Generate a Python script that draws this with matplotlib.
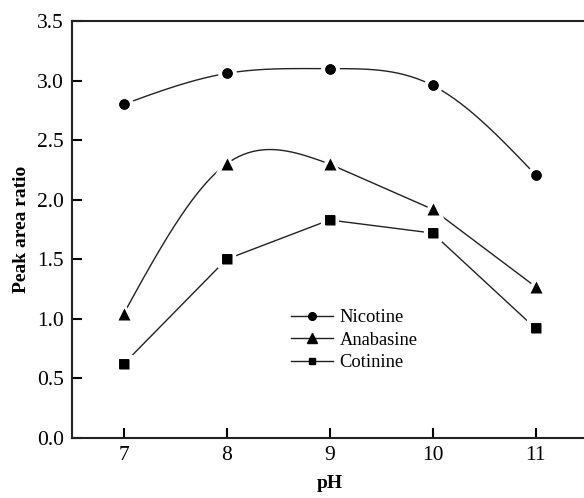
import numpy as np
import matplotlib.pyplot as plt
from matplotlib.lines import Line2D

ph = [7, 8, 9, 10, 11]
nicotine = [2.80, 3.06, 3.10, 2.96, 2.21]
anabasine = [1.04, 2.30, 2.30, 1.92, 1.27]
cotinine = [0.62, 1.50, 1.83, 1.72, 0.92]

plt.rcParams['font.family'] = ['Liberation Serif', 'DejaVu Serif']


def natural_spline(x, y, n=200):
    # natural cubic spline through the measured points, for a smooth connecting line
    x = np.asarray(x, float)
    y = np.asarray(y, float)
    k = len(x)
    h = np.diff(x)
    A = np.zeros((k, k))
    b = np.zeros(k)
    A[0, 0] = A[-1, -1] = 1
    for i in range(1, k - 1):
        A[i, i - 1] = h[i - 1]
        A[i, i] = 2 * (h[i - 1] + h[i])
        A[i, i + 1] = h[i]
        b[i] = 6 * ((y[i + 1] - y[i]) / h[i] - (y[i] - y[i - 1]) / h[i - 1])
    m = np.linalg.solve(A, b)
    xs = np.linspace(x[0], x[-1], n)
    idx = np.clip(np.searchsorted(x, xs) - 1, 0, k - 2)
    x0, x1 = x[idx], x[idx + 1]
    hh = x1 - x0
    t0, t1 = x1 - xs, xs - x0
    ys = (m[idx] * t0 ** 3 + m[idx + 1] * t1 ** 3) / (6 * hh) \
        + (y[idx] / hh - m[idx] * hh / 6) * t0 + (y[idx + 1] / hh - m[idx + 1] * hh / 6) * t1
    return xs, ys


fig = plt.figure(figsize=(5.84, 4.98), dpi=100)
ax = fig.add_axes([72 / 584, 60 / 498, 515 / 584, 417 / 498])

lc = '#222222'
lw = 1.0

# Nicotine: smooth curve over all points
xs, ys = natural_spline(ph, nicotine)
ax.plot(xs, ys, color=lc, lw=lw, zorder=2)
# Anabasine: smooth over pH 7-9, straight after
xs, ys = natural_spline(ph[:3], anabasine[:3])
ax.plot(xs, ys, color=lc, lw=lw, zorder=2)
ax.plot(ph[2:], anabasine[2:], color=lc, lw=lw, zorder=2)
# Cotinine: straight segments
ax.plot(ph, cotinine, color=lc, lw=lw, zorder=2)

series = [(nicotine, 'o', 'Nicotine', 7.5), (anabasine, '^', 'Anabasine', 8.5), (cotinine, 's', 'Cotinine', 6.5)]
handles = []
edge = 3.0
for vals, mk, name, ms in series:
    ax.plot(ph, vals, mk, color='black', ms=ms + edge, mec='white', mew=edge, zorder=3)
    ax.plot(ph, vals, mk, color='black', ms=ms, mec='none', zorder=4)
    handles.append(Line2D([], [], color=lc, lw=lw, marker=mk, ms=ms - 2,
                          mfc='black', mec='black', label=name))

ax.set_xlim(6.5, 11.5)
ax.set_ylim(0, 3.5)
ax.set_xticks(ph)
ax.set_yticks(np.arange(0, 3.51, 0.5))
ax.yaxis.set_major_formatter(plt.FormatStrFormatter('%.1f'))
ax.tick_params(direction='in', length=7, width=1.5, labelsize=15.5, pad=6)
ax.spines['right'].set_visible(False)
for s in ['left', 'bottom', 'top']:
    ax.spines[s].set_linewidth(1.5)
    ax.spines[s].set_color(lc)

ax.set_xlabel('pH', fontsize=14, fontweight='bold', labelpad=7)
ax.set_ylabel('Peak area ratio', fontsize=14, fontweight='bold', labelpad=5)

ax.legend(handles=handles, loc='upper left', bbox_to_anchor=(0.41, 0.327), frameon=False,
          fontsize=13.3, handlelength=2.3, handletextpad=0.35, labelspacing=0.3, borderaxespad=0)

fig.savefig('out.png', dpi=100)
